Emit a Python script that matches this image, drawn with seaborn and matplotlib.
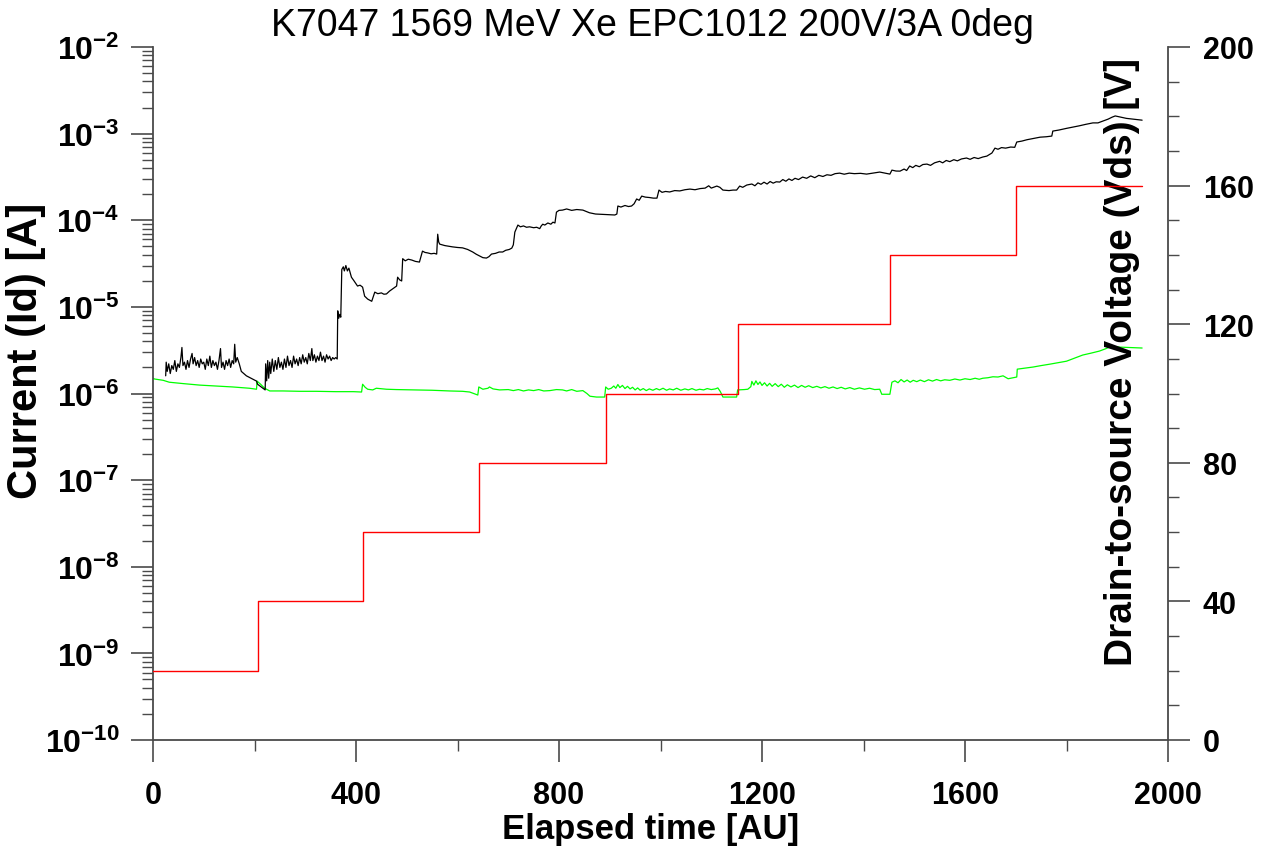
import math
import matplotlib
matplotlib.use("Agg")
import matplotlib.pyplot as plt
import matplotlib.ticker as mticker
import seaborn as sns

# ---------------- data ----------------
# Drain current Id (black)
id_time = [25, 26, 28, 31, 34, 37, 40, 43, 46, 49, 52, 55, 57, 59, 62, 65, 68, 71, 74, 77, 79, 82,
           85, 88, 91, 94, 97, 100, 103, 106, 109, 112, 115, 118, 121, 124, 127, 130, 133, 135,
           138, 141, 144, 147, 150, 153, 156, 159, 161, 163, 166, 168,
           170, 174, 184, 196, 204, 206, 214, 219,
           221, 222, 224, 226, 228, 230, 232, 235, 238, 241, 244, 247, 250, 253, 256, 259, 262,
           265, 268, 271, 274, 277, 280, 283, 286, 289, 292, 295, 298, 301, 304, 307, 310, 313,
           315, 318, 321, 324, 327, 330, 333, 336, 339, 342, 345, 348, 351, 354, 357, 360, 363,
           364, 366, 368, 370, 372, 375, 377, 380, 383, 386, 391, 396, 403, 408, 413, 417, 423,
           431, 437, 443, 450, 455, 460, 466, 472, 480, 482, 486, 490, 492, 497, 503, 510, 517,
           525, 531, 536, 541, 548, 554, 559, 561, 563, 565, 575, 590, 600, 610, 620, 630, 637,
           644, 650, 657, 662, 667, 675, 682, 689, 695, 702, 707, 710, 713, 716, 719, 724, 730,
           736, 742, 750, 756, 762, 765, 768, 772, 778, 784, 788, 792,
           795, 800, 807, 815, 825, 835, 847, 860, 872, 885, 897, 910, 914, 916, 922, 930, 937,
           943, 948, 953, 958, 963, 970, 978, 986, 993, 997, 1003, 1010, 1018, 1028, 1038, 1048,
           1058, 1068, 1078, 1088, 1095, 1100, 1111, 1117, 1123, 1135, 1143, 1150, 1156, 1162,
           1170, 1180, 1186, 1192, 1198, 1204, 1210, 1216, 1222, 1228, 1235, 1241, 1247, 1253,
           1259, 1265, 1272, 1280, 1288, 1296, 1304, 1312, 1320, 1328, 1336, 1344, 1353, 1362,
           1372, 1382, 1394, 1406, 1418, 1432, 1442, 1452, 1456, 1464, 1472,
           1480, 1485, 1491, 1497, 1503, 1510, 1517, 1525, 1532, 1540, 1550, 1556, 1563, 1570,
           1578, 1585, 1593, 1603, 1610, 1618, 1626, 1635, 1643, 1653, 1659, 1665, 1672, 1680,
           1690, 1698, 1702, 1712, 1722, 1735, 1748, 1760, 1771, 1773, 1785, 1800, 1813, 1825,
           1838, 1852, 1862, 1872, 1882, 1890, 1896, 1905, 1918, 1931, 1949]
id_current = [1.6e-6, 2.3e-6, 1.8e-6, 2.2e-6, 1.7e-6, 2.1e-6, 1.9e-6, 2.4e-6, 1.8e-6, 2.2e-6, 2.0e-6,
              2.6e-6, 3.4e-6, 2.1e-6, 2.3e-6, 1.9e-6, 2.4e-6, 2.0e-6, 2.5e-6, 2.9e-6, 2.2e-6, 2.6e-6,
              2.1e-6, 2.4e-6, 2.0e-6, 2.5e-6, 2.2e-6, 2.3e-6, 1.9e-6, 2.5e-6, 2.1e-6, 2.7e-6, 2.0e-6,
              2.4e-6, 2.1e-6, 2.3e-6, 1.9e-6, 2.4e-6, 3.3e-6, 2.0e-6, 2.3e-6, 1.9e-6, 2.4e-6, 2.1e-6,
              2.5e-6, 2.0e-6, 2.4e-6, 2.2e-6, 3.7e-6, 2.3e-6, 2.6e-6, 2.4e-6,
              2.2e-6, 1.8e-6, 1.6e-6, 1.47e-6, 1.39e-6, 1.28e-6, 1.18e-6, 1.12e-6,
              1.1e-6, 2.2e-6, 1.4e-6, 2.4e-6, 1.5e-6, 2.3e-6, 1.7e-6, 2.5e-6, 1.8e-6, 2.4e-6, 1.9e-6,
              2.6e-6, 2.0e-6, 2.3e-6, 1.9e-6, 2.5e-6, 2.0e-6, 2.7e-6, 2.1e-6, 2.4e-6, 2.0e-6, 2.7e-6,
              2.2e-6, 2.5e-6, 2.1e-6, 2.6e-6, 2.2e-6, 2.8e-6, 2.3e-6, 2.6e-6, 2.2e-6, 2.9e-6, 2.4e-6,
              3.3e-6, 2.4e-6, 2.8e-6, 2.3e-6, 2.7e-6, 2.4e-6, 3.0e-6, 2.4e-6, 2.7e-6, 2.3e-6, 2.8e-6,
              2.5e-6, 2.7e-6, 2.4e-6, 2.6e-6, 2.5e-6, 2.6e-6, 2.5e-6,
              9.0e-6, 7.4e-6, 8.2e-6, 7.6e-6, 2.7e-5, 2.9e-5, 2.6e-5, 3.0e-5, 2.6e-5, 2.8e-5, 2.2e-5,
              2.0e-5, 1.74e-5, 1.78e-5, 1.69e-5, 1.33e-5, 1.23e-5, 1.16e-5, 1.48e-5, 1.42e-5, 1.45e-5,
              1.40e-5, 1.41e-5, 1.52e-5, 1.61e-5, 1.74e-5, 2.2e-5, 2.05e-5, 1.99e-5, 3.6e-5, 3.4e-5,
              3.55e-5, 3.47e-5, 3.35e-5, 3.29e-5, 4.4e-5, 4.25e-5, 4.2e-5, 4.1e-5, 4.15e-5, 4.07e-5,
              6.9e-5, 5.6e-5, 5.3e-5, 5.1e-5, 4.93e-5, 4.85e-5, 4.8e-5, 4.6e-5, 4.3e-5, 4.05e-5,
              3.86e-5, 3.7e-5, 3.66e-5, 3.8e-5, 4.07e-5, 4.15e-5, 4.3e-5, 4.3e-5, 4.5e-5, 4.6e-5,
              4.77e-5, 5.2e-5, 7.3e-5, 8.0e-5, 8.8e-5, 8.4e-5, 8.6e-5, 8.3e-5, 8.4e-5, 8.2e-5, 8.3e-5,
              8.0e-5, 8.6e-5, 9.0e-5, 8.8e-5, 9.3e-5, 9.0e-5, 9.5e-5, 9.3e-5,
              1.24e-4, 1.30e-4, 1.31e-4, 1.35e-4, 1.30e-4, 1.33e-4, 1.31e-4, 1.22e-4, 1.18e-4,
              1.17e-4, 1.16e-4, 1.15e-4, 1.18e-4, 1.46e-4, 1.42e-4, 1.48e-4, 1.44e-4, 1.46e-4,
              1.55e-4, 1.76e-4, 1.7e-4, 1.9e-4, 1.85e-4, 1.83e-4, 1.80e-4, 1.80e-4, 2.23e-4, 2.1e-4,
              2.15e-4, 2.12e-4, 2.2e-4, 2.18e-4, 2.25e-4, 2.29e-4, 2.25e-4, 2.32e-4, 2.35e-4, 2.5e-4,
              2.35e-4, 2.48e-4, 2.4e-4, 2.23e-4, 2.2e-4, 2.23e-4, 2.23e-4, 2.48e-4, 2.4e-4, 2.55e-4,
              2.62e-4, 2.5e-4, 2.7e-4, 2.6e-4, 2.75e-4, 2.62e-4, 2.8e-4, 2.68e-4, 2.78e-4, 2.76e-4,
              2.95e-4, 2.82e-4, 3.0e-4, 2.88e-4, 3.05e-4, 2.95e-4, 3.15e-4, 3.05e-4, 3.25e-4, 3.1e-4,
              3.3e-4, 3.2e-4, 3.35e-4, 3.3e-4, 3.45e-4, 3.5e-4, 3.4e-4, 3.5e-4, 3.45e-4, 3.48e-4,
              3.41e-4, 3.5e-4, 3.6e-4, 3.5e-4, 3.41e-4, 3.79e-4, 3.7e-4, 3.69e-4,
              3.9e-4, 3.75e-4, 4.23e-4, 4.05e-4, 4.3e-4, 4.15e-4, 4.4e-4, 4.45e-4, 4.3e-4, 4.6e-4,
              4.79e-4, 4.6e-4, 4.9e-4, 4.75e-4, 5.0e-4, 4.85e-4, 5.1e-4, 5.23e-4, 5.05e-4, 5.3e-4,
              5.15e-4, 5.37e-4, 5.5e-4, 5.97e-4, 6.8e-4, 6.6e-4, 6.9e-4, 6.8e-4, 7.0e-4, 6.95e-4,
              8.0e-4, 8.2e-4, 8.5e-4, 8.8e-4, 9.1e-4, 9.2e-4, 9.37e-4, 1.07e-3, 1.1e-3, 1.15e-3,
              1.19e-3, 1.23e-3, 1.28e-3, 1.33e-3, 1.33e-3, 1.4e-3, 1.47e-3, 1.55e-3, 1.6e-3, 1.56e-3,
              1.5e-3, 1.47e-3, 1.43e-3]

# Second current trace (green)
ig_time = [0, 3, 20, 25, 32, 60, 92, 125, 157, 190, 204, 205, 212, 220, 230, 256, 290, 322, 360,
           395, 411, 413, 418, 423, 433, 440, 460, 480, 519, 550, 584, 610, 624, 640, 642, 650,
           660, 663, 670, 683, 700, 710, 720, 730, 740, 750, 760, 770, 782, 795, 807, 815, 825,
           835, 847, 855, 861, 874, 890, 892, 897, 903, 908, 912, 916, 920, 925, 930, 935, 940,
           945, 950, 955, 960, 966, 972, 978, 985, 992, 998, 1005, 1012, 1018, 1025, 1032, 1040,
           1048, 1055, 1062, 1070, 1077, 1085, 1092, 1100, 1108, 1113, 1118, 1123, 1150, 1152,
           1165, 1172, 1178, 1180, 1184, 1188, 1192, 1196, 1200, 1205, 1210, 1215, 1220, 1226,
           1232, 1238, 1244, 1250, 1257, 1264, 1271, 1278, 1285, 1292, 1300, 1308, 1316, 1324,
           1332, 1340, 1348, 1356, 1364, 1373, 1382, 1392, 1402, 1412, 1422, 1432, 1434, 1436,
           1452, 1456, 1462, 1468, 1474, 1480, 1486, 1492, 1498, 1505, 1512, 1520, 1528, 1536,
           1544, 1552, 1560, 1570, 1580, 1590, 1600, 1610, 1620, 1628, 1635, 1645, 1655, 1665,
           1675, 1685, 1695, 1702, 1703, 1715, 1734, 1750, 1767, 1785, 1800, 1815, 1832, 1848,
           1865, 1878, 1889, 1897, 1905, 1949]
ig_current = [1.5e-6, 1.47e-6, 1.42e-6, 1.39e-6, 1.35e-6, 1.3e-6, 1.25e-6, 1.22e-6, 1.19e-6,
              1.15e-6, 1.12e-6, 1.39e-6, 1.28e-6, 1.15e-6, 1.07e-6, 1.07e-6, 1.06e-6, 1.06e-6,
              1.05e-6, 1.05e-6, 1.04e-6, 1.28e-6, 1.18e-6, 1.12e-6, 1.10e-6, 1.15e-6, 1.12e-6,
              1.11e-6, 1.10e-6, 1.09e-6, 1.07e-6, 1.06e-6, 1.04e-6, 0.96e-6, 1.19e-6, 1.12e-6,
              1.15e-6, 1.19e-6, 1.13e-6, 1.10e-6, 1.11e-6, 1.08e-6, 1.11e-6, 1.07e-6, 1.10e-6,
              1.08e-6, 1.11e-6, 1.07e-6, 1.08e-6, 1.11e-6, 1.10e-6, 1.07e-6, 1.11e-6, 1.06e-6,
              1.08e-6, 1.0e-6, 0.93e-6, 0.91e-6, 0.91e-6, 1.19e-6, 1.12e-6, 1.15e-6, 1.22e-6,
              1.15e-6, 1.27e-6, 1.17e-6, 1.24e-6, 1.14e-6, 1.21e-6, 1.13e-6, 1.18e-6, 1.10e-6,
              1.16e-6, 1.09e-6, 1.14e-6, 1.08e-6, 1.13e-6, 1.09e-6, 1.14e-6, 1.10e-6, 1.15e-6,
              1.09e-6, 1.13e-6, 1.10e-6, 1.15e-6, 1.09e-6, 1.13e-6, 1.10e-6, 1.14e-6, 1.09e-6,
              1.12e-6, 1.10e-6, 1.14e-6, 1.11e-6, 1.13e-6, 1.16e-6, 1.05e-6, 0.91e-6, 0.91e-6,
              1.10e-6, 1.11e-6, 1.12e-6, 1.2e-6, 1.38e-6, 1.25e-6, 1.4e-6, 1.27e-6, 1.36e-6,
              1.24e-6, 1.33e-6, 1.22e-6, 1.31e-6, 1.21e-6, 1.3e-6, 1.2e-6, 1.28e-6, 1.18e-6,
              1.26e-6, 1.19e-6, 1.25e-6, 1.17e-6, 1.24e-6, 1.18e-6, 1.23e-6, 1.17e-6, 1.21e-6,
              1.16e-6, 1.2e-6, 1.15e-6, 1.19e-6, 1.14e-6, 1.18e-6, 1.13e-6, 1.17e-6, 1.12e-6,
              1.16e-6, 1.12e-6, 1.15e-6, 1.11e-6, 1.12e-6, 1.05e-6, 0.98e-6, 0.98e-6, 1.35e-6,
              1.4e-6, 1.33e-6, 1.45e-6, 1.36e-6, 1.43e-6, 1.35e-6, 1.42e-6, 1.37e-6, 1.43e-6,
              1.37e-6, 1.44e-6, 1.39e-6, 1.45e-6, 1.4e-6, 1.44e-6, 1.42e-6, 1.47e-6, 1.43e-6,
              1.48e-6, 1.45e-6, 1.5e-6, 1.46e-6, 1.5e-6, 1.52e-6, 1.56e-6, 1.55e-6, 1.6e-6,
              1.48e-6, 1.52e-6, 1.55e-6, 1.91e-6, 1.95e-6, 2.02e-6, 2.1e-6, 2.18e-6, 2.28e-6,
              2.36e-6, 2.55e-6, 2.78e-6, 2.92e-6, 3.09e-6, 3.3e-6, 3.53e-6, 3.45e-6, 3.43e-6,
              3.35e-6]

# Drain-to-source voltage steps (red)
vds_time = [0, 206, 413, 642, 892, 1152, 1452, 1700, 1949]
vds_volt = [20, 40, 60, 80, 100, 120, 140, 160, 160]

title_text = "K7047 1569 MeV Xe EPC1012 200V/3A 0deg"
x_label = "Elapsed time [AU]"
y_label = "Current (Id) [A]"
y2_label = "Drain-to-source Voltage (Vds) [V]"

# ---------------- styling ----------------
sns.set_style("ticks")
plt.rcParams["font.family"] = ["Liberation Sans", "DejaVu Sans"]
plt.rcParams["mathtext.fontset"] = "custom"
plt.rcParams["mathtext.rm"] = "Liberation Sans"
plt.rcParams["mathtext.bf"] = "Liberation Sans:bold"
plt.rcParams["text.color"] = "black"
plt.rcParams["axes.labelcolor"] = "black"

spine_c = "#4a4a4a"

fig = plt.figure(figsize=(12.69, 8.53), dpi=100)
ax = fig.add_axes([153 / 1269, 1 - 741 / 853, (1168 - 153) / 1269, (741 - 48) / 853])
ax.set_facecolor("white")
ax.set_yscale("log")

sns.lineplot(x=ig_time, y=ig_current, ax=ax, color="#00ff00", lw=0.9,
             estimator=None, sort=False)
sns.lineplot(x=id_time, y=id_current, ax=ax, color="black", lw=0.9,
             estimator=None, sort=False)

ax.set_xlim(0, 2000)
ax.set_ylim(1e-10, 1e-2)

ax2 = ax.twinx()
sns.lineplot(x=vds_time, y=vds_volt, ax=ax2, color="#ff0000", lw=1.0,
             estimator=None, sort=False, drawstyle="steps-post")
ax2.set_ylim(0, 200)
ax2.set_xlim(0, 2000)

# spines
for a in (ax, ax2):
    a.spines["top"].set_visible(False)
    for s in a.spines.values():
        s.set_color(spine_c)
        s.set_linewidth(1.3)
ax.spines["right"].set_visible(False)
ax2.spines["left"].set_visible(False)
ax2.spines["bottom"].set_visible(False)

# ticks
ax.xaxis.set_major_locator(mticker.MultipleLocator(400))
ax.xaxis.set_minor_locator(mticker.MultipleLocator(200))
ax.yaxis.set_major_locator(mticker.LogLocator(base=10, numticks=20))
ax.yaxis.set_minor_locator(mticker.LogLocator(base=10, subs=range(2, 10), numticks=100))
ax.yaxis.set_minor_formatter(mticker.NullFormatter())
ax.yaxis.set_major_formatter(mticker.FuncFormatter(
    lambda v, p: r"$\mathbf{10^{%d}}$" % round(math.log10(v))))
ax2.yaxis.set_major_locator(mticker.MultipleLocator(40))
ax2.yaxis.set_minor_locator(mticker.MultipleLocator(10))

ax.tick_params(axis="x", which="major", direction="out", length=16, width=1.2,
               color=spine_c, labelcolor="black", labelsize=22, pad=13)
ax.tick_params(axis="x", which="minor", direction="out", length=8, width=1.0, color=spine_c)
ax.tick_params(axis="y", which="major", direction="out", length=16, width=1.2,
               color=spine_c, labelcolor="black", labelsize=23, pad=8, left=True, right=False)
ax.tick_params(axis="y", which="minor", direction="out", length=8, width=1.0,
               color=spine_c, left=True, right=False)
ax2.tick_params(axis="y", which="major", direction="out", length=16, width=1.2,
                color=spine_c, labelcolor="black", labelsize=22, pad=9)
ax2.tick_params(axis="y", which="minor", direction="out", length=8, width=1.0, color=spine_c)

for lab in ax.get_xticklabels() + ax2.get_yticklabels():
    lab.set_fontweight("bold")

# labels
ax.set_xlabel(x_label, fontsize=25, fontweight="bold")
ax.set_ylabel(y_label, fontsize=30, fontweight="bold")
ax2.set_ylabel(y2_label, fontsize=28, fontweight="bold")
ax.xaxis.set_label_coords(0.49, -0.127)
ax.xaxis.label.set_va("center")
ax.yaxis.set_label_coords(-0.125, 0.563)
ax.yaxis.label.set_va("center")
ax2.yaxis.set_label_coords(0.955, 0.547)
ax2.yaxis.label.set_va("center")

fig.text(652 / 1269, 1 - 26 / 853, title_text, ha="center", va="center",
         fontsize=27, fontweight="normal")

fig.savefig("out.png", dpi=100, facecolor="white")
